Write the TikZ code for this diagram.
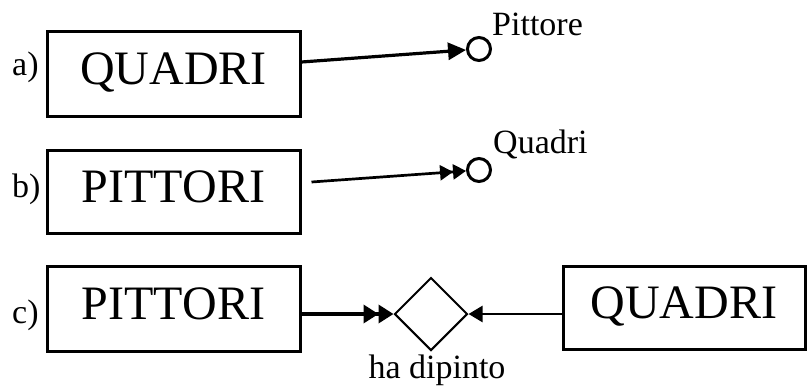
\documentclass[tikz,border=0pt]{standalone}
\usepackage{fontspec}
\setmainfont{Liberation Serif}
\usetikzlibrary{arrows.meta,shapes.geometric}
\begin{document}
\begin{tikzpicture}[x=1pt,y=-1pt,
  box/.style={draw, line width=3pt, inner sep=0pt, font=\fontsize{48}{50}\selectfont, text height=31pt, text depth=10pt},
  lbl/.style={inner sep=0pt, font=\fontsize{34}{36}\selectfont},
  circ/.style={draw, circle, line width=3pt, minimum size=23pt, inner sep=0pt},
  rel/.style={draw, diamond, aspect=1, line width=2pt, minimum width=73pt, minimum height=73pt, inner sep=0pt},
  conn/.style={line width=3pt},
  one/.style={-{Triangle[length=18pt,width=17pt]}},
  two/.style={-{Triangle[length=13pt,width=15pt]Triangle[length=13pt,width=15pt]}},
]
\useasboundingbox (0,0) rectangle (808,389);
% boxes
\node[box, minimum width=253pt, minimum height=85pt] (qa) at (173.5,73.5) {QUADRI};
\node[box, minimum width=253pt, minimum height=83pt] (pb) at (173.5,191.5) {PITTORI};
\node[box, minimum width=253pt, minimum height=85pt] (pc) at (173.5,308.5) {PITTORI};
\node[box, minimum width=242pt, minimum height=83pt] (qd) at (684,307.5) {QUADRI};
% side labels
\node[lbl, anchor=base west] (la) at (12,75) {a)};
\node[lbl, anchor=base west] (lb) at (12,197) {b)};
\node[lbl, anchor=base west] (lc) at (12,323) {c)};
% circles
\node[circ] (ca) at (479,49) {};
\node[circ] (cb) at (479,170) {};
\node[lbl, anchor=base west] (tpa) at (492,35) {Pittore};
\node[lbl, anchor=base west] (tqb) at (493,153) {Quadri};
% diamond
\node[rel] (dm) at (431,314) {};
\node[lbl, anchor=base] (hd) at (437,378) {ha dipinto};
% connectors
\draw[conn, line width=3.2pt, one] ([yshift=11.5pt]qa.east) -- (ca);
\draw[conn, line width=2.7pt, two] ([shift={(10pt,9.5pt)}]pb.east) -- (cb);
\draw[conn, line width=3.5pt, -{Triangle[length=15pt,width=18pt]Triangle[length=15pt,width=18pt]}] (pc.east |- dm.west) -- (dm.west);
\draw[conn, line width=2.5pt, -{Triangle[length=14pt,width=16pt]}] (qd.west |- dm.east) -- (dm.east);
\end{tikzpicture}
\end{document}
